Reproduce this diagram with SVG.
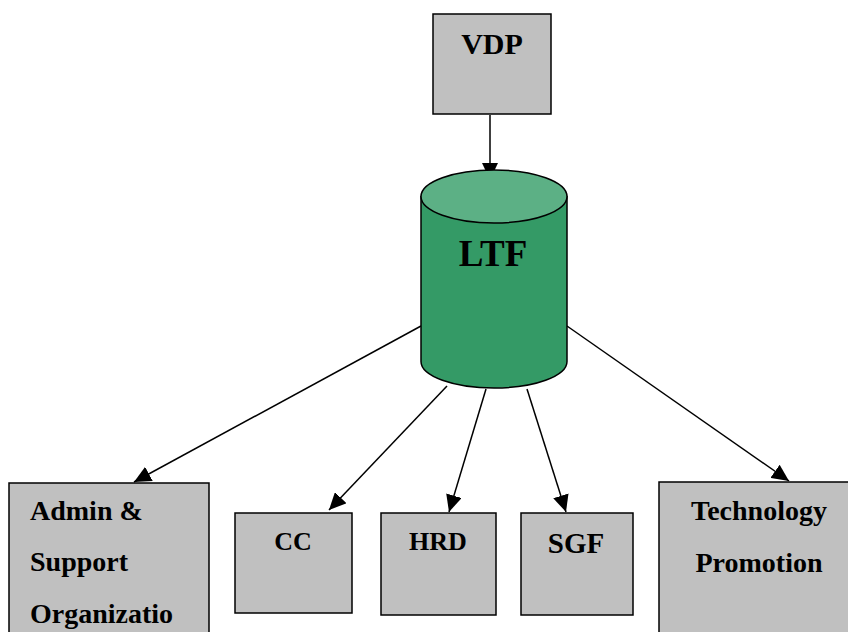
<svg xmlns="http://www.w3.org/2000/svg" width="848" height="632" viewBox="0 0 848 632">
<style>
.box{fill:#c0c0c0;stroke:#000;stroke-width:1.5}
.t{font-family:"Liberation Serif","Times New Roman",serif;font-weight:bold;fill:#000}
.c{text-anchor:middle}
.edge{stroke:#000;stroke-width:1.5;fill:none;marker-end:url(#ah)}
</style>
<defs>
<marker id="ah" markerUnits="userSpaceOnUse" markerWidth="18" markerHeight="16" viewBox="0 0 18 16" refX="17" refY="8" orient="auto">
<path d="M0,0 L17,8 L0,16 Z" fill="#000"/>
</marker>
</defs>
<rect width="848" height="632" fill="#fff"/>
<g id="connectors">
<line class="edge" x1="490" y1="115" x2="490" y2="180"/>
<line class="edge" x1="421" y1="326" x2="134" y2="482"/>
<line class="edge" x1="447" y1="386" x2="329" y2="510"/>
<line class="edge" x1="486" y1="389" x2="449" y2="512"/>
<line class="edge" x1="527" y1="389" x2="566" y2="512"/>
<line class="edge" x1="567" y1="326" x2="789" y2="481"/>
</g>
<g id="VDP">
<rect class="box" x="433" y="14" width="118" height="100"/>
<text class="t c" x="492" y="54" font-size="30">VDP</text>
</g>
<g id="LTF">
<path d="M421,196.5 L421,361.5 A73,26.5 0 0 0 567,361.5 L567,196.5 Z" fill="#349a66" stroke="#000" stroke-width="1.5"/>
<ellipse cx="494" cy="196.5" rx="73" ry="26.5" fill="#5cb085" stroke="#000" stroke-width="1.5"/>
<text class="t c" x="493" y="266" font-size="37">LTF</text>
</g>
<g id="Admin">
<rect class="box" x="9" y="483" width="200" height="160"/>
<text class="t" x="30" y="520" font-size="28">Admin &amp;</text>
<text class="t" x="30" y="571" font-size="28">Support</text>
<text class="t" x="30" y="623" font-size="28">Organizatio</text>
</g>
<g id="CC">
<rect class="box" x="235" y="513" width="117" height="100"/>
<text class="t c" x="293" y="550" font-size="26">CC</text>
</g>
<g id="HRD">
<rect class="box" x="381" y="513" width="115" height="102"/>
<text class="t c" x="438" y="550" font-size="26">HRD</text>
</g>
<g id="SGF">
<rect class="box" x="521" y="513" width="112" height="102"/>
<text class="t c" x="576" y="553" font-size="29">SGF</text>
</g>
<g id="Tech">
<rect class="box" x="659" y="482" width="220" height="170"/>
<text class="t c" x="759" y="520" font-size="28">Technology</text>
<text class="t c" x="759" y="572" font-size="28">Promotion</text>
</g>
</svg>
